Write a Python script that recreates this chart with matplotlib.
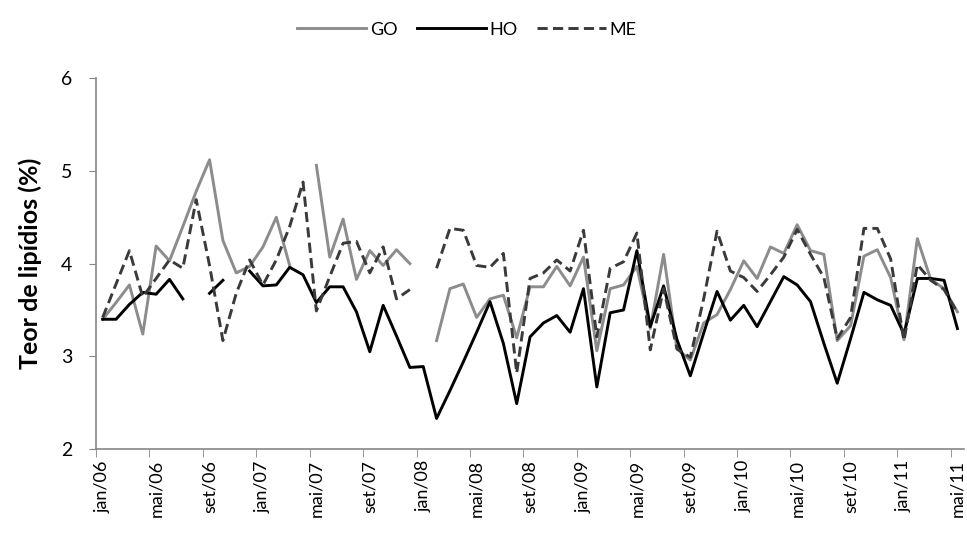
import numpy as np
import matplotlib
matplotlib.use("Agg")
import matplotlib.pyplot as plt

nan = np.nan

# monthly data jan/06 .. mai/11
month_names = ["jan", "fev", "mar", "abr", "mai", "jun",
               "jul", "ago", "set", "out", "nov", "dez"]
months = [f"{month_names[m % 12]}/{6 + m // 12:02d}" for m in range(65)]

go = [3.40, 3.58, 3.77, 3.24, 4.19, 4.03, 4.40, 4.78, 5.12, 4.25,
      3.90, 3.97, 4.18, 4.50, 3.98, nan, 5.06, 4.07, 4.48, 3.83,
      4.14, 3.98, 4.15, 4.00, nan, 3.17, 3.73, 3.78, 3.42, 3.62,
      3.66, 3.20, 3.75, 3.75, 3.97, 3.76, 4.07, 3.06, 3.73, 3.77,
      3.97, 3.30, 4.10, 3.08, 2.96, 3.36, 3.45, 3.72, 4.03, 3.84,
      4.18, 4.11, 4.42, 4.14, 4.10, 3.17, 3.33, 4.08, 4.15, 3.85,
      3.18, 4.27, 3.83, 3.73, 3.48]

ho = [3.40, 3.40, 3.56, 3.69, 3.67, 3.83, 3.62, nan, 3.68, 3.82,
      nan, 3.92, 3.76, 3.77, 3.96, 3.88, 3.58, 3.75, 3.75, 3.48,
      3.05, 3.55, 3.22, 2.88, 2.89, 2.33, 2.63, 2.94, 3.26, 3.59,
      3.14, 2.49, 3.21, 3.36, 3.44, 3.26, 3.73, 2.67, 3.47, 3.50,
      4.14, 3.32, 3.76, 3.18, 2.79, 3.25, 3.70, 3.39, 3.55, 3.32,
      3.59, 3.86, 3.77, 3.59, 3.14, 2.71, 3.19, 3.69, 3.61, 3.55,
      3.24, 3.84, 3.84, 3.82, 3.30]

me = [3.42, 3.78, 4.14, 3.64, 3.84, 4.04, 3.95, 4.69, 3.98, 3.17,
      3.68, 4.04, 3.77, 4.04, 4.40, 4.88, 3.49, 3.86, 4.22, 4.24,
      3.90, 4.18, 3.62, 3.72, nan, 3.95, 4.38, 4.36, 3.98, 3.96,
      4.11, 2.82, 3.84, 3.90, 4.04, 3.92, 4.36, 3.21, 3.95, 4.02,
      4.33, 3.07, 3.73, 3.08, 2.99, 3.62, 4.35, 3.92, 3.85, 3.70,
      3.88, 4.07, 4.37, 4.10, 3.85, 3.19, 3.42, 4.38, 4.38, 4.05,
      3.17, 3.99, 3.82, 3.72, 3.47]

plt.rcParams["font.family"] = ["Lato", "DejaVu Sans"]

fig = plt.figure(figsize=(9.67, 5.43), dpi=100)
ax = fig.add_axes([0.0993, 0.173, 0.8977, 0.683])

x = np.arange(len(months))
ax.plot(x, go, color="#8c8c8c", linewidth=2.1, label="GO")
ax.plot(x, ho, color="black", linewidth=2.1, label="HO")
ax.plot(x, me, color="#3a3a3a", linewidth=2.1, linestyle=(0, (3.5, 1.8)), label="ME")

ax.set_xlim(-0.5, len(months) - 0.5)
ax.set_ylim(2, 6)
ax.set_yticks([2, 3, 4, 5, 6])

ax.set_xticks(x[::4])
ax.set_xticklabels(months[::4], rotation=90, fontsize=13)
ax.set_xticks(np.arange(-0.5, len(months), 4), minor=True)
ax.tick_params(axis="x", which="major", length=0, pad=8)
ax.tick_params(axis="x", which="minor", length=6, color="#868686", direction="out")
ax.tick_params(axis="y", length=5, color="#868686", labelsize=14, pad=12)

for side in ["top", "right"]:
    ax.spines[side].set_visible(False)
for side in ["left", "bottom"]:
    ax.spines[side].set_color("#868686")
    ax.spines[side].set_linewidth(1.2)

ax.set_ylabel("Teor de lipídios (%)", fontsize=18, fontweight="bold", labelpad=14)

fig.legend(loc="upper center", bbox_to_anchor=(0.483, 0.99), ncol=3, frameon=False,
           fontsize=13, handlelength=3.8, columnspacing=1.1, handletextpad=0.2)

fig.savefig("out.png", dpi=100)
plt.close(fig)
